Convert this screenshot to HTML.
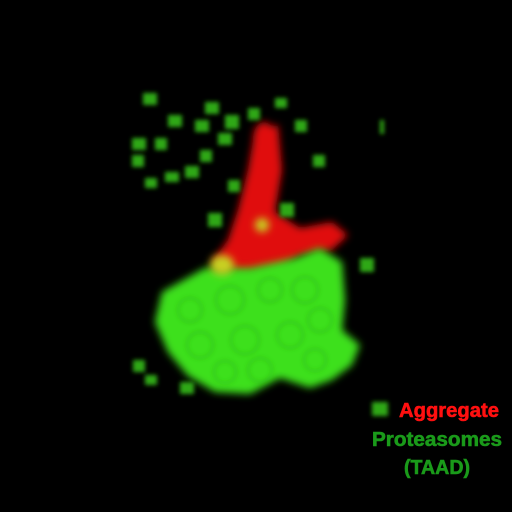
<!DOCTYPE html>
<html><head><meta charset="utf-8"><style>
html,body{margin:0;padding:0;background:#000;}
svg{display:block;}
text{font-family:"Liberation Sans Narrow","Liberation Sans",sans-serif;font-weight:bold;}
</style></head><body>
<svg width="512" height="512" viewBox="0 0 512 512">
<defs>
<filter id="b4" x="-50%" y="-50%" width="200%" height="200%"><feGaussianBlur stdDeviation="4"/></filter>
<filter id="b2" x="-50%" y="-50%" width="200%" height="200%"><feGaussianBlur stdDeviation="2"/></filter>
</defs>
<rect width="512" height="512" fill="#000"/>
<g filter="url(#b4)" fill="#e01010">
<path d="M255,130 L278,125 L282,170 L275,212 L300,228 L332,222 L348,235 L332,250 L300,256 L280,270 L240,275 L212,262 L228,240 L238,210 L248,170 Z"/>
<ellipse cx="264" cy="140" rx="11" ry="18"/>
</g>
<g filter="url(#b4)" fill="#3ee01a">
<path d="M162,292 L205,268 L250,268 L295,258 L320,248 L342,262 L345,300 L342,330 L360,345 L352,365 L332,380 L310,388 L280,378 L250,394 L215,392 L188,376 L168,352 L155,322 Z"/>
</g>
<g filter="url(#b2)" fill="none" stroke="#28b014" stroke-width="2" opacity="0.6">
<circle cx="190" cy="310" r="12"/><circle cx="230" cy="300" r="14"/><circle cx="270" cy="290" r="12"/>
<circle cx="305" cy="290" r="13"/><circle cx="200" cy="345" r="13"/><circle cx="245" cy="340" r="14"/>
<circle cx="290" cy="335" r="13"/><circle cx="320" cy="320" r="12"/><circle cx="260" cy="370" r="12"/>
<circle cx="225" cy="372" r="11"/><circle cx="315" cy="360" r="11"/>
</g>
<g filter="url(#b4)" fill="#c8d020">
<ellipse cx="222" cy="265" rx="12" ry="10"/>
<ellipse cx="262" cy="225" rx="7" ry="7"/>
</g>
<g filter="url(#b2)" fill="#2ea818">
<rect x="143" y="93" width="14" height="12"/><rect x="205" y="102" width="14" height="12"/>
<rect x="168" y="115" width="14" height="12"/><rect x="195" y="120" width="14" height="12"/>
<rect x="225" y="115" width="14" height="14"/><rect x="248" y="108" width="12" height="12"/>
<rect x="275" y="98" width="12" height="10"/><rect x="295" y="120" width="12" height="12"/>
<rect x="132" y="138" width="14" height="12"/><rect x="155" y="138" width="12" height="12"/>
<rect x="218" y="133" width="14" height="12"/><rect x="132" y="155" width="12" height="12"/>
<rect x="200" y="150" width="12" height="12"/><rect x="313" y="155" width="12" height="12"/>
<rect x="145" y="178" width="12" height="10"/><rect x="165" y="172" width="14" height="10"/>
<rect x="185" y="166" width="14" height="12"/><rect x="228" y="180" width="12" height="12"/>
<rect x="280" y="203" width="14" height="14"/><rect x="208" y="213" width="14" height="14"/>
<rect x="380" y="120" width="4" height="14"/><rect x="360" y="258" width="14" height="14"/>
<rect x="133" y="360" width="12" height="12"/><rect x="145" y="375" width="12" height="10"/>
<rect x="372" y="402" width="16" height="14"/><rect x="180" y="382" width="14" height="12"/>
</g>
<text x="399" y="417" font-size="20" fill="#ff1010" stroke="#ff1010" stroke-width="0.6" textLength="100" lengthAdjust="spacingAndGlyphs">Aggregate</text>
<text x="372" y="446" font-size="20" fill="#1a9a1a" stroke="#1a9a1a" stroke-width="0.6" textLength="130" lengthAdjust="spacingAndGlyphs">Proteasomes</text>
<text x="404" y="474" font-size="20" fill="#1a9a1a" stroke="#1a9a1a" stroke-width="0.6" textLength="66" lengthAdjust="spacingAndGlyphs">(TAAD)</text>
</svg>
</body></html>
